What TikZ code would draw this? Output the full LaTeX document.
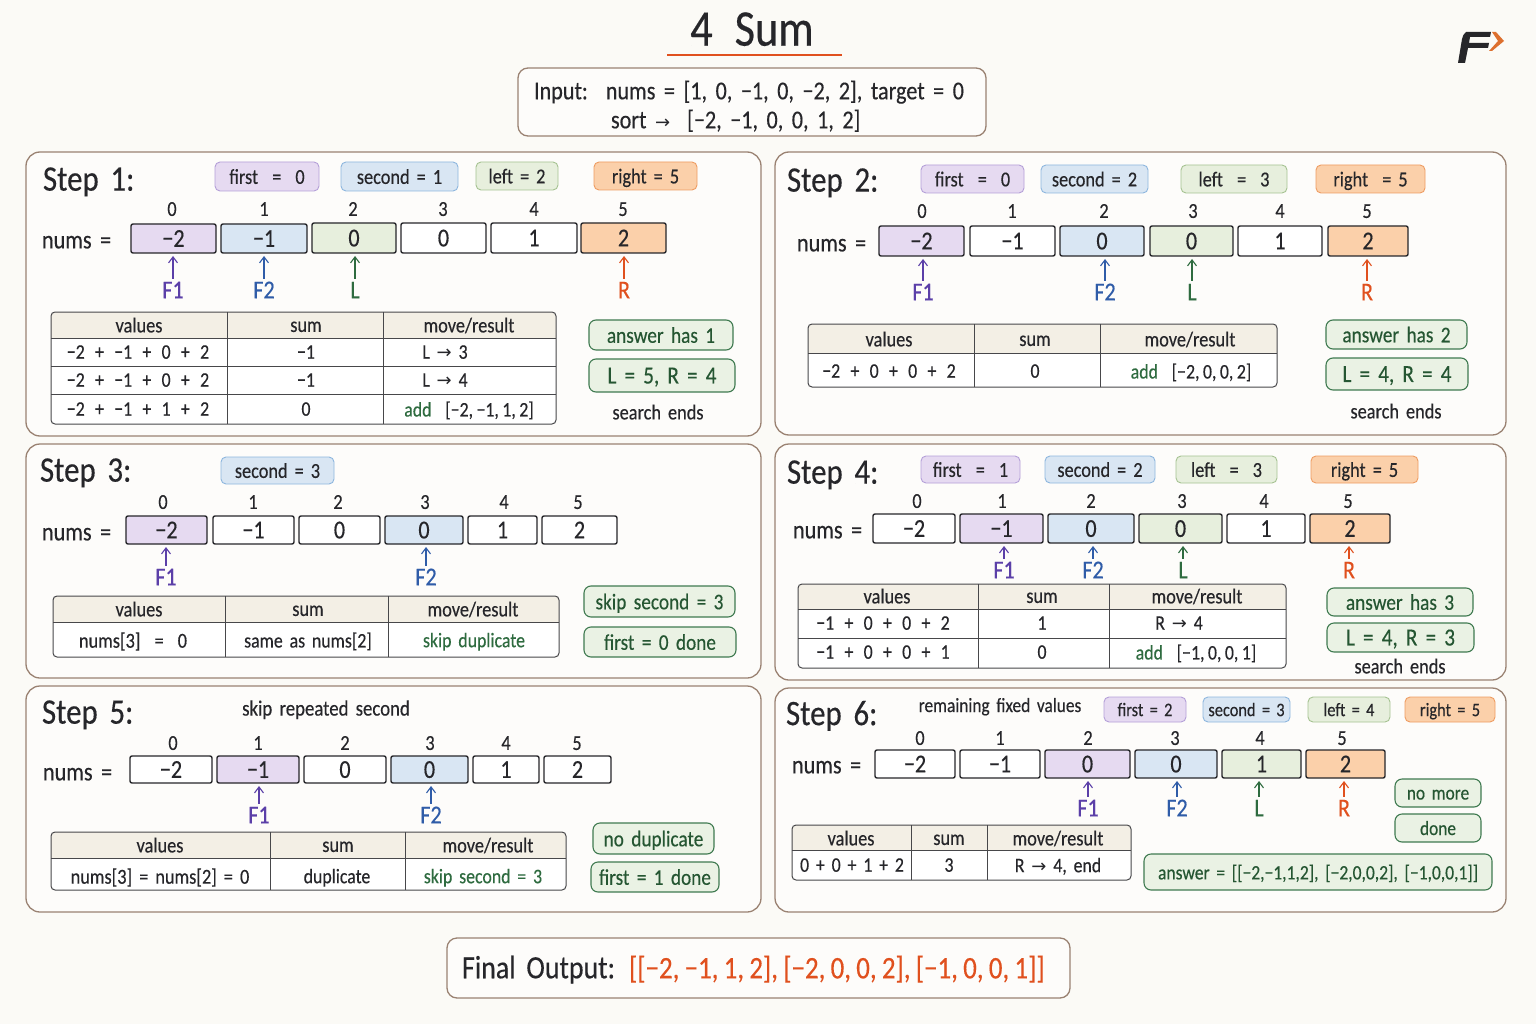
\documentclass[tikz,border=0pt]{standalone}
\usepackage{fontspec}
\setmainfont[WordSpace=1.7,Scale=1.12,FakeStretch=0.86,FakeBold=0.35]{Carlito}
\newfontfamily\arrowf{DejaVu Sans}
\usetikzlibrary{arrows.meta}
\definecolor{bgc}{HTML}{FBFAF6}
\definecolor{panelc}{HTML}{9A8272}
\definecolor{inkc}{HTML}{26262A}
\definecolor{purf}{HTML}{E6DAF1}\definecolor{purd}{HTML}{B49FD8}
\definecolor{bluf}{HTML}{D9E6F3}\definecolor{blud}{HTML}{8DB6DE}
\definecolor{gref}{HTML}{E7EFDD}\definecolor{gred}{HTML}{A5C291}
\definecolor{oraf}{HTML}{FBD0AA}\definecolor{orad}{HTML}{EE9C62}
\definecolor{calf}{HTML}{EAF2E4}\definecolor{cald}{HTML}{3F7A50}
\definecolor{hdrf}{HTML}{F3EFE5}
\definecolor{fone}{HTML}{5B3FA8}\definecolor{ftwo}{HTML}{2F5CA8}
\definecolor{lcol}{HTML}{2E6B3F}\definecolor{rcol}{HTML}{E0501E}
\definecolor{logoc}{HTML}{DD6F2E}
\newcommand\fs[1]{\fontsize{#1}{#1}\selectfont}
\newcommand\ra{{\arrowf\fs{18}→}}
\newcommand\mn{−}
\newcommand\pl{~\,+~\,}
\newcounter{tn}
\tikzset{
  every node/.style={inner sep=0pt,outer sep=0pt,text=inkc,font=\fs{19},text depth=0pt,execute at begin node=\vphantom{0}},
  panelbox/.style={draw=panelc,line width=1.3pt,rounded corners=14pt,fill=bgc!60!white},
  chip/.style={rounded corners=5pt,line width=.9pt,font=\fs{19}},
  chipP/.style={chip,draw=purd,fill=purf},
  chipB/.style={chip,draw=blud,fill=bluf},
  chipG/.style={chip,draw=gred,fill=gref},
  chipO/.style={chip,draw=orad,fill=oraf},
  cellbase/.style={rounded corners=2pt,draw=inkc,line width=1.4pt,font=\fs{23}},
  cellW/.style={cellbase,fill=white},
  cellP/.style={cellbase,fill=purf},
  cellB/.style={cellbase,fill=bluf},
  cellG/.style={cellbase,fill=gref},
  cellO/.style={cellbase,fill=oraf},
  callout/.style={rounded corners=7pt,draw=cald,line width=1.1pt,fill=calf,text=lcol!80!black,font=\fs{20}},
  ptr/.style={-{Straight Barb[length=6pt,width=9pt]},line width=1.1pt,shorten <=3pt,shorten >=3pt},
  steptitle/.style={anchor=west,font=\fs{32}},
  numslabel/.style={anchor=west,font=\fs{23}},
  idx/.style={font=\fs{19}},
  plainbox/.style={draw=panelc,line width=1.3pt,rounded corners=10pt,fill=bgc!60!white},
  tabline/.style={draw=inkc!85!white,line width=1pt},
  tabh/.style={font=\fs{19}},
  tabc/.style={font=\fs{18.5}},
  addc/.style={text=lcol}
}
% generic box: style, name, x1,x2,y1,y2, text
\newcommand\bx[7]{%
  \pgfmathsetmacro\cx{(#3+#4)/2}\pgfmathsetmacro\cy{(#5+#6)/2}%
  \pgfmathsetmacro\ww{#4-#3}\pgfmathsetmacro\hh{#6-#5}%
  \node[#1,minimum width=\ww pt,minimum height=\hh pt] (#2) at (\cx,\cy) {#7};}
% auto-named text
\newcommand\txt[4][]{\stepcounter{tn}\node[#1] (t\thetn) at (#2,#3) {#4};}
% pointer: name, cell, x, label-y, colour, text
\newcommand\pnt[6]{%
  \node[text=#5,font=\fs{23}] (#1) at (#3,#4) {#6};
  \draw[ptr,draw=#5] (#1.north) -- (#1.north |- #2.south);}
% table: x1,x2,y1,y2,c1,c2,rowlines (incl. header split)
\newcommand\tbl[7]{%
  \begin{scope}
  \clip[rounded corners=4pt] (#1,#3) rectangle (#2,#4);
  \fill[white] (#1,#3) rectangle (#2,#4);
  \foreach \yy[count=\ii] in {#7}{\ifnum\ii=1 \fill[hdrf] (#1,#3) rectangle (#2,\yy);\fi}
  \end{scope}
  \foreach \yy in {#7}{\draw[tabline] (#1,\yy) -- (#2,\yy);}
  \draw[tabline] (#5,#3) -- (#5,#4);
  \draw[tabline] (#6,#3) -- (#6,#4);
  \draw[tabline,rounded corners=4pt] (#1,#3) rectangle (#2,#4);}
\begin{document}
\begin{tikzpicture}[x=1pt,y=-1pt]
\useasboundingbox (0,0) rectangle (1536,1024);
\fill[bgc] (0,0) rectangle (1536,1024);
% title
\node[font=\fs{46}] (title) at (752,29) {4\hspace{22pt}Sum};
\coordinate (ula) at (667,55); \coordinate (ulb) at (842,55);
\draw[rcol,line width=1.8pt] (ula) -- (ulb);
% logo
\fill[inkc] (1466,32) -- (1491,32) -- (1490,37) -- (1470,37) -- (1469,43) -- (1489,43) -- (1488,48) -- (1468,48) -- (1465,63) -- (1458,63) -- (1462,39) to[bend left=20] cycle;
\fill[logoc] (1492,32) -- (1496,32) -- (1504,41) -- (1492,51) -- (1489,51) -- (1498,41) -- cycle;
% input
\bx{plainbox}{inputbox}{518}{986}{68}{136}{}
\txt[anchor=west,font=\fs{23}]{534}{90}{Input:\hspace{18pt}nums = [1, 0, \mn1, 0, \mn2, 2], target = 0}
\txt[anchor=west,font=\fs{23}]{611}{119}{sort~\ra~~[\mn2, \mn1, 0, 0, 1, 2]}
% panels
\bx{panelbox}{pA}{26}{761}{152}{436}{}
\bx{panelbox}{pB}{775}{1506}{152}{435}{}
\bx{panelbox}{pC}{26}{761}{444}{678}{}
\bx{panelbox}{pD}{775}{1506}{444}{680}{}
\bx{panelbox}{pE}{26}{761}{686}{912}{}
\bx{panelbox}{pF}{775}{1506}{688}{912}{}
%% STEP 1
\txt[steptitle]{43}{179}{Step~1:}
\bx{chipP}{a1}{215}{319}{162}{191}{first~~=~~0}
\bx{chipB}{a2}{341}{458}{162}{191}{second = 1}
\bx{chipG}{a3}{476}{558}{162}{190}{left = 2}
\bx{chipO}{a4}{594}{697}{162}{190}{right~=~5}
\txt[numslabel]{42}{240}{nums =}
\foreach \x/\i in {172/0,264/1,353/2,443/3,534/4,623/5}{\txt[idx]{\x}{209}{\i}}
\bx{cellP}{ac0}{131}{216}{224}{253}{\mn2}
\bx{cellB}{ac1}{221}{307}{224}{253}{\mn1}
\bx{cellG}{ac2}{312}{396}{223}{253}{0}
\bx{cellW}{ac3}{401}{486}{223}{253}{0}
\bx{cellW}{ac4}{491}{577}{223}{253}{1}
\bx{cellO}{ac5}{581}{666}{223}{253}{2}
\pnt{aF1}{ac0}{173}{290}{fone}{F1}
\pnt{aF2}{ac1}{264}{290}{ftwo}{F2}
\pnt{aL}{ac2}{355}{290}{lcol}{L}
\pnt{aR}{ac5}{624}{290}{rcol}{R}
\tbl{51}{556}{312}{424}{227}{383}{338,366,394}
\txt[tabh]{139}{325}{values}\txt[tabh]{306}{325}{sum}\txt[tabh]{469}{325}{move/result}
\txt[tabc]{138}{352}{\mn2\pl\mn1\pl0\pl2}\txt[tabc]{306}{352}{\mn1}\txt[tabc]{445}{352}{L \ra\ 3}
\txt[tabc]{138}{380}{\mn2\pl\mn1\pl0\pl2}\txt[tabc]{306}{380}{\mn1}\txt[tabc]{445}{380}{L \ra\ 4}
\txt[tabc]{138}{409}{\mn2\pl\mn1\pl1\pl2}\txt[tabc]{306}{409}{0}\txt[tabc]{469}{409}{\textcolor{lcol}{add}~~[\mn2,\,\mn1,\,1,\,2]}
\bx{callout}{aa}{589}{733}{320}{350}{answer has 1}
\bx{callout,font=\fs{22}}{ab}{589}{735}{359}{392}{L = 5, R = 4}
\txt[font=\fs{19}]{658}{412}{search ends}
%% STEP 2
\txt[steptitle]{787}{180}{Step~2:}
\bx{chipP}{b1}{921}{1024}{165}{193}{first~~=~~0}
\bx{chipB}{b2}{1041}{1148}{165}{193}{second = 2}
\bx{chipG}{b3}{1181}{1287}{165}{193}{left~~=~~3}
\bx{chipO}{b4}{1316}{1425}{165}{193}{right~~=~5}
\txt[numslabel]{797}{243}{nums =}
\foreach \x/\i in {922/0,1012/1,1104/2,1193/3,1280/4,1367/5}{\txt[idx]{\x}{211}{\i}}
\bx{cellP}{bc0}{879}{964}{226}{256}{\mn2}
\bx{cellW}{bc1}{970}{1055}{226}{256}{\mn1}
\bx{cellB}{bc2}{1060}{1144}{226}{256}{0}
\bx{cellG}{bc3}{1150}{1233}{226}{256}{0}
\bx{cellW}{bc4}{1238}{1322}{226}{256}{1}
\bx{cellO}{bc5}{1328}{1408}{226}{256}{2}
\pnt{bF1}{bc0}{923}{292}{fone}{F1}
\pnt{bF2}{bc2}{1105}{292}{ftwo}{F2}
\pnt{bL}{bc3}{1192}{292}{lcol}{L}
\pnt{bR}{bc5}{1367}{292}{rcol}{R}
\tbl{808}{1277}{324}{387}{974}{1100}{353}
\txt[tabh]{889}{339}{values}\txt[tabh]{1035}{339}{sum}\txt[tabh]{1190}{339}{move/result}
\txt[tabc]{889}{371}{\mn2\pl0\pl0\pl2}\txt[tabc]{1035}{371}{0}\txt[tabc]{1191}{371}{\textcolor{lcol}{add}~~[\mn2,\,0,\,0,\,2]}
\bx{callout}{ba}{1326}{1467}{320}{349}{answer has 2}
\bx{callout,font=\fs{22}}{bb}{1326}{1468}{358}{390}{L = 4, R = 4}
\txt[font=\fs{19}]{1396}{411}{search ends}
%% STEP 3
\txt[steptitle]{40}{470}{Step~3:}
\bx{chipB}{c2}{221}{334}{457}{484}{second = 3}
\txt[numslabel]{42}{532}{nums =}
\foreach \x/\i in {163/0,253/1,338/2,425/3,504/4,578/5}{\txt[idx]{\x}{502}{\i}}
\bx{cellP}{cc0}{126}{207}{516}{544}{\mn2}
\bx{cellW}{cc1}{213}{294}{516}{544}{\mn1}
\bx{cellW}{cc2}{299}{380}{516}{544}{0}
\bx{cellB}{cc3}{385}{463}{516}{544}{0}
\bx{cellW}{cc4}{468}{537}{516}{544}{1}
\bx{cellW}{cc5}{542}{617}{516}{544}{2}
\pnt{cF1}{cc0}{166}{577}{fone}{F1}
\pnt{cF2}{cc3}{426}{577}{ftwo}{F2}
\tbl{53}{559}{596}{657}{225}{388}{622}
\txt[tabh]{139}{609}{values}\txt[tabh]{308}{609}{sum}\txt[tabh]{473}{609}{move/result}
\txt[tabc,font=\fs{19}]{133}{640}{nums[3]~~=~~0}\txt[tabc]{308}{640}{same as nums[2]}\txt[tabc,addc]{474}{640}{skip duplicate}
\bx{callout}{ca}{584}{735}{586}{617}{skip second = 3}
\bx{callout}{cb}{584}{736}{627}{657}{first = 0 done}
%% STEP 4
\txt[steptitle]{787}{472}{Step~4:}
\bx{chipP}{d1}{921}{1020}{456}{483}{first~~=~~1}
\bx{chipB}{d2}{1045}{1155}{456}{483}{second = 2}
\bx{chipG}{d3}{1176}{1277}{456}{483}{left~~=~~3}
\bx{chipO}{d4}{1311}{1418}{456}{483}{right~=~5}
\txt[numslabel]{793}{530}{nums =}
\foreach \x/\i in {917/0,1002/1,1091/2,1182/3,1264/4,1348/5}{\txt[idx]{\x}{501}{\i}}
\bx{cellW}{dc0}{873}{955}{514}{543}{\mn2}
\bx{cellP}{dc1}{960}{1043}{514}{543}{\mn1}
\bx{cellB}{dc2}{1048}{1134}{514}{543}{0}
\bx{cellG}{dc3}{1139}{1222}{514}{543}{0}
\bx{cellW}{dc4}{1227}{1305}{514}{543}{1}
\bx{cellO}{dc5}{1310}{1390}{514}{543}{2}
\pnt{dF1}{dc1}{1004}{570}{fone}{F1}
\pnt{dF2}{dc2}{1093}{570}{ftwo}{F2}
\pnt{dL}{dc3}{1183}{570}{lcol}{L}
\pnt{dR}{dc5}{1349}{570}{rcol}{R}
\tbl{798}{1286}{584}{668}{978}{1109}{609,638}
\txt[tabh]{887}{596}{values}\txt[tabh]{1042}{596}{sum}\txt[tabh]{1197}{596}{move/result}
\txt[tabc]{883}{623}{\mn1\pl0\pl0\pl2}\txt[tabc]{1042}{623}{1}\txt[tabc]{1179}{623}{R \ra\ 4}
\txt[tabc]{883}{652}{\mn1\pl0\pl0\pl1}\txt[tabc]{1042}{652}{0}\txt[tabc]{1196}{652}{\textcolor{lcol}{add}~~[\mn1,\,0,\,0,\,1]}
\bx{callout}{da}{1327}{1473}{588}{616}{answer has 3}
\bx{callout,font=\fs{22}}{db}{1327}{1474}{623}{652}{L = 4, R = 3}
\txt[font=\fs{19}]{1400}{666}{search ends}
%% STEP 5
\txt[steptitle]{42}{712}{Step~5:}
\txt[font=\fs{19.5}]{326}{708}{skip repeated second}
\txt[numslabel]{43}{772}{nums =}
\foreach \x/\i in {173/0,258/1,345/2,430/3,506/4,577/5}{\txt[idx]{\x}{743}{\i}}
\bx{cellW}{ec0}{130}{212}{756}{783}{\mn2}
\bx{cellP}{ec1}{217}{299}{756}{783}{\mn1}
\bx{cellW}{ec2}{304}{386}{756}{783}{0}
\bx{cellB}{ec3}{391}{468}{756}{783}{0}
\bx{cellW}{ec4}{473}{539}{756}{783}{1}
\bx{cellW}{ec5}{544}{611}{756}{783}{2}
\pnt{eF1}{ec1}{259}{815}{fone}{F1}
\pnt{eF2}{ec3}{431}{815}{ftwo}{F2}
\tbl{51}{566}{832}{890}{270}{405}{858}
\txt[tabh]{160}{845}{values}\txt[tabh]{338}{845}{sum}\txt[tabh]{488}{845}{move/result}
\txt[tabc,font=\fs{19}]{160}{876}{nums[3] = nums[2] = 0}\txt[tabc]{337}{876}{duplicate}\txt[tabc,addc]{483}{876}{skip second = 3}
\bx{callout}{ea}{593}{714}{823}{854}{no duplicate}
\bx{callout}{eb}{591}{719}{862}{892}{first = 1 done}
%% STEP 6
\txt[steptitle]{786}{713}{Step~6:}
\txt[font=\fs{18}]{1000}{705}{remaining fixed values}
\bx{chipP,font=\fs{17}}{f1}{1104}{1186}{697}{722}{first = 2}
\bx{chipB,font=\fs{17}}{f2}{1203}{1290}{697}{722}{second = 3}
\bx{chipG,font=\fs{17}}{f3}{1308}{1390}{697}{722}{left = 4}
\bx{chipO,font=\fs{17}}{f4}{1405}{1495}{697}{722}{right = 5}
\txt[numslabel]{792}{765}{nums =}
\foreach \x/\i in {920/0,1000/1,1088/2,1175/3,1260/4,1342/5}{\txt[idx]{\x}{738}{\i}}
\bx{cellW}{fc0}{875}{955}{750}{778}{\mn2}
\bx{cellW}{fc1}{960}{1040}{750}{778}{\mn1}
\bx{cellP}{fc2}{1045}{1130}{750}{778}{0}
\bx{cellB}{fc3}{1135}{1217}{750}{778}{0}
\bx{cellG}{fc4}{1222}{1301}{750}{778}{1}
\bx{cellO}{fc5}{1306}{1385}{750}{778}{2}
\pnt{fF1}{fc2}{1088}{808}{fone}{F1}
\pnt{fF2}{fc3}{1177}{808}{ftwo}{F2}
\pnt{fL}{fc4}{1259}{808}{lcol}{L}
\pnt{fR}{fc5}{1344}{808}{rcol}{R}
\tbl{792}{1131}{825}{880}{911}{987}{850}
\txt[tabh]{851}{838}{values}\txt[tabh]{949}{838}{sum}\txt[tabh]{1058}{838}{move/result}
\txt[tabc]{852}{865}{0 + 0 + 1 + 2}\txt[tabc]{949}{865}{3}\txt[tabc]{1058}{865}{R \ra\ 4, end}
\bx{callout,font=\fs{18}}{fa}{1395}{1481}{779}{807}{no more}
\bx{callout,font=\fs{18}}{fb}{1395}{1481}{814}{842}{done}
\bx{callout,font=\fs{18.2}}{fd}{1144}{1492}{854}{890}{answer = [[\mn2,\mn1,1,2], [\mn2,0,0,2], [\mn1,0,0,1]]}
%% FINAL
\bx{plainbox}{finalbox}{447}{1070}{938}{998}{}
\txt[anchor=west,font=\fs{29}]{462}{967}{Final~Output:}
\txt[anchor=west,font=\fs{28},text=rcol]{629}{967}{[[\mn2,\,\mn1,\,1,\,2],\,[\mn2,\,0,\,0,\,2],\,[\mn1,\,0,\,0,\,1]]}
\end{tikzpicture}
\end{document}
